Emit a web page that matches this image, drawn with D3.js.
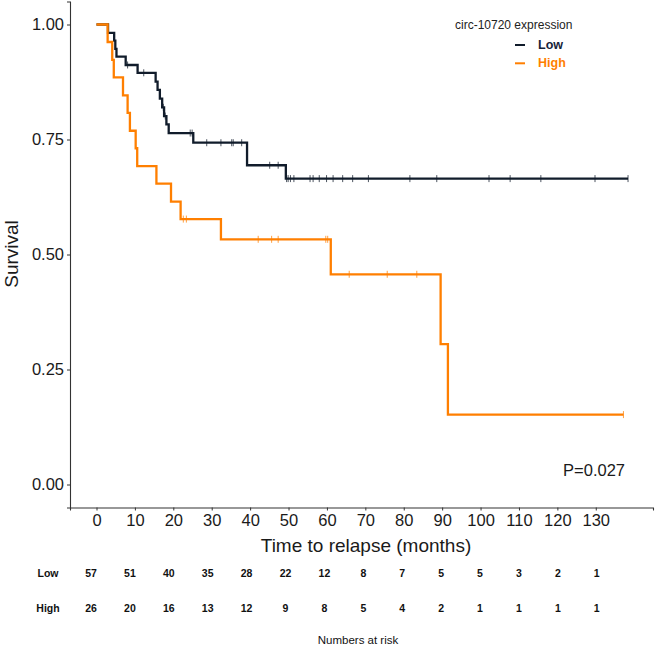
<!DOCTYPE html>
<html>
<head>
<meta charset="utf-8">
<script src="https://cdn.jsdelivr.net/npm/d3@7"></script>
<style>
body{margin:0;background:#fff}
text{font-family:"Liberation Sans",Arial,Helvetica,sans-serif}
</style>
</head>
<body>
<svg width="658" height="646"></svg>
<script>
// Kaplan-Meier steps (time in months, survival)
var lowTimes = [0, 3.0, 4.6, 4.9, 5.2, 7.6, 10.7, 15.4, 15.9, 16.5, 17.1, 17.6, 18.2, 18.8, 25.2, 39.2, 49.3, 138.4];
var lowSurv  = [1, 0.982, 0.965, 0.947, 0.930, 0.912, 0.895, 0.876, 0.858, 0.839, 0.820, 0.801, 0.783, 0.764, 0.743, 0.694, 0.665, 0.665];
var lowCensor = [8.1, 12.3, 17.4, 17.9, 24.4, 24.9, 28.7, 32.4, 35.2, 35.6, 37.8, 45.1, 47.3, 49.5, 49.9, 50.5, 51.4,
                 55.6, 56.4, 58.0, 59.9, 61.6, 64.1, 66.7, 70.8, 81.6, 88.6, 102.2, 107.7, 115.7, 129.8, 138.4];

var highTimes = [0, 2.9, 4.1, 4.5, 6.9, 8.1, 8.7, 10.2, 10.6, 15.6, 19.4, 21.9, 32.4, 61.0, 89.6, 91.5, 137.2];
var highSurv  = [1, 0.962, 0.923, 0.885, 0.846, 0.808, 0.769, 0.731, 0.692, 0.654, 0.615, 0.577, 0.533, 0.457, 0.305, 0.152, 0.152];
var highCensor = [22.6, 23.4, 42.1, 45.6, 47.3, 59.7, 60.2, 65.8, 75.7, 83.4, 137.2];

// numbers at risk table
var riskTimes = [0, 10, 20, 30, 40, 50, 60, 70, 80, 90, 100, 110, 120, 130];
var riskLow  = [57, 51, 40, 35, 28, 22, 12, 8, 7, 5, 5, 3, 2, 1];
var riskHigh = [26, 20, 16, 13, 12, 9, 8, 5, 4, 2, 1, 1, 1, 1];

var yTicks = [0, 0.25, 0.5, 0.75, 1];

var lowColor = "#111c2b", highColor = "#ff7f00";

var svg = d3.select("svg");

// scales (ggplot style 5% expansion)
var xScale = d3.scaleLinear().domain([-6.9, 144.9]).range([70, 653]);
var yScale = d3.scaleLinear().domain([-0.05, 1.05]).range([507.5, 1.5]);
var riskScale = d3.scaleLinear().domain([0, 130]).range([91, 596.7]);

// axes
var xAxis = svg.append("g")
    .attr("transform", "translate(0,507.5)")
    .call(d3.axisBottom(xScale).tickValues(riskTimes).tickSizeOuter(0).tickSize(3).tickPadding(4));
var yAxis = svg.append("g")
    .attr("transform", "translate(70,0)")
    .call(d3.axisLeft(yScale).tickValues(yTicks).tickFormat(d3.format(".2f")).tickSizeOuter(0).tickSize(3).tickPadding(3));

[xAxis, yAxis].forEach(function(a){
    a.select(".domain").attr("stroke", "#333").attr("stroke-width", 1.1);
    a.selectAll(".tick line").attr("stroke", "#333").attr("stroke-width", 1);
    a.selectAll(".tick text")
        .attr("fill", "#1a1a1a")
        .attr("font-size", "16.5px")
        .attr("font-family", "'Liberation Sans',Arial,sans-serif");
});

// axis titles
svg.append("text")
    .attr("x", 366).attr("y", 552)
    .attr("text-anchor", "middle")
    .attr("font-size", "19px").attr("fill", "#1a1a1a")
    .text("Time to relapse (months)");
svg.append("text")
    .attr("transform", "translate(17.5,254) rotate(-90)")
    .attr("text-anchor", "middle")
    .attr("font-size", "19px").attr("fill", "#1a1a1a")
    .text("Survival");

// curves
var line = d3.line()
    .x(function(d){ return xScale(d[0]); })
    .y(function(d){ return yScale(d[1]); })
    .curve(d3.curveStepAfter);

function survAt(times, surv, t){
    var i = d3.bisectRight(times, t) - 1;
    return surv[Math.max(0, i)];
}

function drawGroup(times, surv, censor, color){
    var pts = times.map(function(t, i){ return [t, surv[i]]; });
    svg.append("path")
        .datum(pts)
        .attr("fill", "none")
        .attr("stroke", color)
        .attr("stroke-width", 2.3)
        .attr("d", line);
    svg.append("g").selectAll("line")
        .data(censor)
        .enter().append("line")
        .attr("x1", function(d){ return xScale(d); })
        .attr("x2", function(d){ return xScale(d); })
        .attr("y1", function(d){ return yScale(survAt(times, surv, d)) - 3.5; })
        .attr("y2", function(d){ return yScale(survAt(times, surv, d)) + 3.5; })
        .attr("stroke", color)
        .attr("stroke-opacity", 0.75)
        .attr("stroke-width", 1);
}

drawGroup(lowTimes, lowSurv, lowCensor, lowColor);
drawGroup(highTimes, highSurv, highCensor, highColor);

// p value
svg.append("text")
    .attr("x", 625).attr("y", 475.5)
    .attr("text-anchor", "end")
    .attr("font-size", "16.5px").attr("fill", "#1a1a1a")
    .text("P=0.027");

// legend
svg.append("text")
    .attr("x", 455).attr("y", 29)
    .attr("font-size", "12px").attr("fill", "#222")
    .text("circ-10720 expression");
var legendItems = [
    {name: "Low", color: lowColor, text: "#16233a", y: 45},
    {name: "High", color: highColor, text: highColor, y: 63.3}
];
var lg = svg.append("g").selectAll("g").data(legendItems).enter().append("g");
lg.append("line")
    .attr("x1", 515).attr("x2", 525)
    .attr("y1", function(d){ return d.y; }).attr("y2", function(d){ return d.y; })
    .attr("stroke", function(d){ return d.color; })
    .attr("stroke-width", 2);
lg.append("text")
    .attr("x", 538).attr("y", function(d){ return d.y + 3.8; })
    .attr("font-size", "12.5px").attr("font-weight", "bold")
    .attr("fill", function(d){ return d.text; })
    .text(function(d){ return d.name; });

// numbers at risk
var rows = [
    {name: "Low", values: riskLow, y: 577},
    {name: "High", values: riskHigh, y: 612}
];
rows.forEach(function(r){
    svg.append("text")
        .attr("x", 48).attr("y", r.y)
        .attr("text-anchor", "middle")
        .attr("font-size", "10.5px").attr("font-weight", "bold").attr("fill", "#111")
        .text(r.name);
    svg.append("g").selectAll("text")
        .data(r.values)
        .enter().append("text")
        .attr("x", function(d, i){ return riskScale(riskTimes[i]); })
        .attr("y", r.y)
        .attr("text-anchor", "middle")
        .attr("font-size", "10.5px").attr("font-weight", "bold").attr("fill", "#111")
        .text(function(d){ return d; });
});
svg.append("text")
    .attr("x", 358).attr("y", 644)
    .attr("text-anchor", "middle")
    .attr("font-size", "11.5px").attr("fill", "#111")
    .text("Numbers at risk");
</script>
</body>
</html>
